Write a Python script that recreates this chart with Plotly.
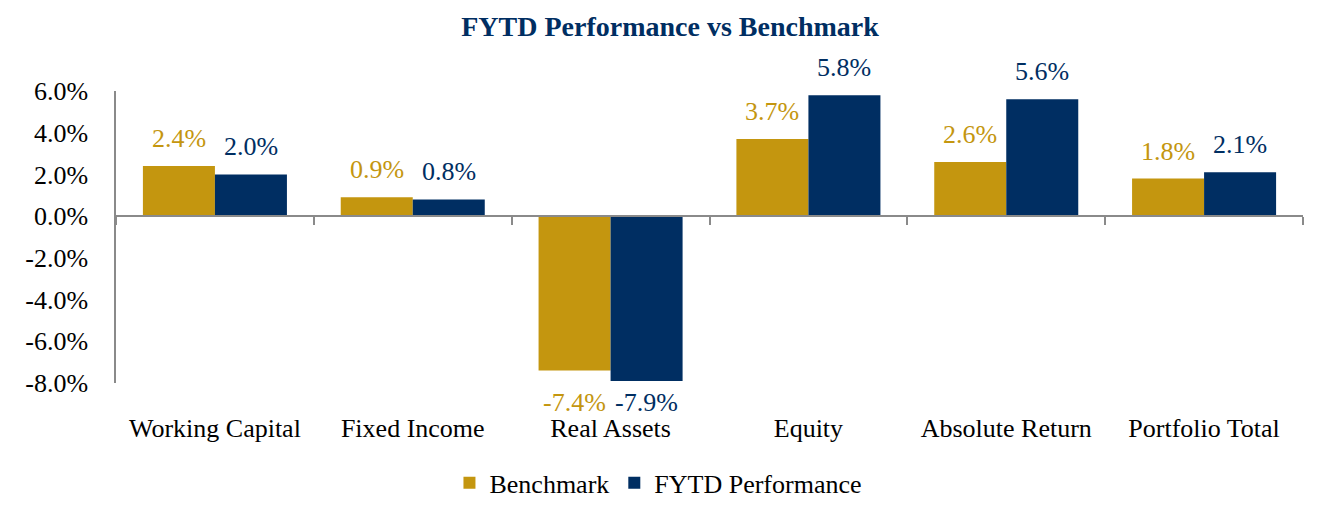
import plotly.graph_objects as go

# ---- data ----
CATEGORIES = ["Working Capital", "Fixed Income", "Real Assets", "Equity",
              "Absolute Return", "Portfolio Total"]
BENCHMARK = [2.4, 0.9, -7.4, 3.7, 2.6, 1.8]
FYTD = [2.0, 0.8, -7.9, 5.8, 5.6, 2.1]
SERIES_NAMES = ["Benchmark", "FYTD Performance"]
Y_TICKS = [-8.0, -6.0, -4.0, -2.0, 0.0, 2.0, 4.0, 6.0]
Y_TICK_TEXT = [f"{v:.1f}%" for v in Y_TICKS]
TITLE = "FYTD Performance vs Benchmark"

# ---- style ----
GOLD = "#C4960F"
NAVY = "#002E62"
AXIS_GRAY = "#8A8A8A"
FONT = "Liberation Serif, Times New Roman, serif"
FS = 26
Y_MIN, Y_MAX = Y_TICKS[0], Y_TICKS[-1]
HALF_BAR_PX = 36
W, H = 1325, 513  # page body adds an 8px margin

fig = go.Figure()
for name, vals, col in [(SERIES_NAMES[0], BENCHMARK, GOLD), (SERIES_NAMES[1], FYTD, NAVY)]:
    fig.add_trace(go.Bar(x=CATEGORIES, y=vals, name=name, marker=dict(color=col, line=dict(width=0)),
                         hoverinfo="x+y"))

# invisible trace to carry the zero-positioned axis with boundary ticks
fig.add_trace(go.Scatter(x=CATEGORIES, y=[None] * len(CATEGORIES), xaxis="x2", yaxis="y",
                         showlegend=False, hoverinfo="skip", mode="markers"))

annotations = []
for vals, col, sign in [(BENCHMARK, GOLD, -1), (FYTD, NAVY, 1)]:
    for c, v in zip(CATEGORIES, vals):
        if v >= 0:
            annotations.append(dict(x=c, y=v, xref="x", yref="y", text=f"{v:.1f}%",
                                    showarrow=False, yanchor="bottom", xanchor="center",
                                    xshift=sign * HALF_BAR_PX, yshift=11,
                                    font=dict(family=FONT, size=FS, color=col)))
        else:
            # negative labels are kept inside the chart: placed just below the axis floor
            annotations.append(dict(x=c, y=Y_MIN, xref="x", yref="y", text=f"{v:.1f}%",
                                    showarrow=False, yanchor="top", xanchor="center",
                                    xshift=sign * HALF_BAR_PX, yshift=-3,
                                    font=dict(family=FONT, size=FS, color=col)))

fig.update_layout(
    width=W, height=H,
    margin=dict(l=108, r=30, t=83, b=138),
    paper_bgcolor="white", plot_bgcolor="white",
    font=dict(family=FONT, size=FS, color="#000000"),
    title=dict(text=f"<b>{TITLE}</b>", x=(670 - 8) / W, xref="container", xanchor="center",
               y=1 - 18 / H, yref="container", yanchor="middle",
               font=dict(family=FONT, size=28, color=NAVY)),
    barmode="group", bargap=0.272, bargroupgap=0,
    showlegend=True,
    legend=dict(orientation="h", x=0.457, xanchor="center", y=-0.342, yanchor="middle",
                font=dict(family=FONT, size=FS, color="#000000"), traceorder="normal",
                itemclick=False),
    xaxis=dict(type="category", categoryorder="array", categoryarray=CATEGORIES,
               range=[-0.5, len(CATEGORIES) - 0.5], showline=False, showgrid=False,
               zeroline=False, ticks="", ticklabelstandoff=27,
               tickfont=dict(family=FONT, size=FS, color="#000000")),
    xaxis2=dict(type="category", categoryorder="array", categoryarray=CATEGORIES,
                range=[-0.5, len(CATEGORIES) - 0.5], overlaying="x", anchor="free",
                position=(0 - Y_MIN) / (Y_MAX - Y_MIN), side="bottom",
                showline=True, linecolor=AXIS_GRAY, linewidth=2, showgrid=False,
                zeroline=False, ticks="outside", tickson="boundaries", ticklen=8,
                tickwidth=2, tickcolor=AXIS_GRAY, showticklabels=False),
    yaxis=dict(range=[Y_MIN, Y_MAX], tickvals=Y_TICKS, ticktext=Y_TICK_TEXT,
               showline=True, linecolor=AXIS_GRAY, linewidth=1.5, showgrid=False,
               zeroline=False, ticks="", ticklabelstandoff=21,
               tickfont=dict(family=FONT, size=FS, color="#000000")),
    annotations=annotations,
)

fig.write_html("out.html")
